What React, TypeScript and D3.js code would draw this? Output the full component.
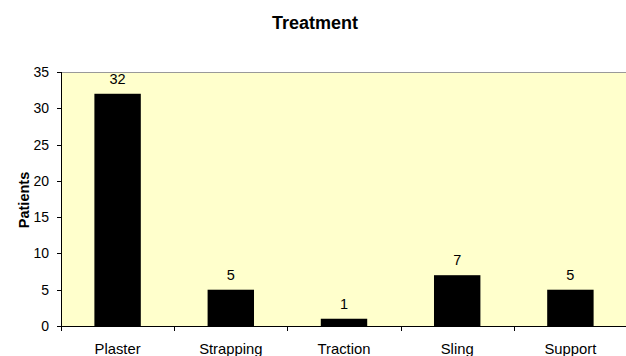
import React from "react";
import * as d3 from "d3";

const categories = ["Plaster", "Strapping", "Traction", "Sling", "Support"];
const patients = [32, 5, 1, 7, 5];
const yTicks = [0, 5, 10, 15, 20, 25, 30, 35];

const W = 626;
const H = 356;
const left = 61;
const right = 627;
const top = 72;
const bottom = 326;

export default function App() {
  const x = d3.scaleBand<string>().domain(categories).range([left, right]).paddingInner(0).paddingOuter(0);
  const y = d3.scaleLinear().domain([0, 35]).range([bottom, top]);
  const bw = x.bandwidth() * 0.41;
  const font = "Liberation Sans, Arial, sans-serif";
  return (
    <svg width={W} height={H} style={{ position: "absolute", left: 0, top: 0 }} fontFamily={font}>
      <rect x={0} y={0} width={W} height={H} fill="#fff" />
      <rect x={left} y={top} width={right - left} height={bottom - top} fill="#FFFFCC" />
      <line x1={left} x2={right} y1={top + 0.5} y2={top + 0.5} stroke="#999" strokeWidth={1} />
      {categories.map((c, i) => {
        const cx = (x(c) as number) + x.bandwidth() / 2;
        return (
          <g key={c}>
            <rect x={cx - bw / 2} y={y(patients[i])} width={bw} height={bottom - y(patients[i])} fill="#000" />
            <text x={cx} y={y(patients[i]) - 10} textAnchor="middle" fontSize={14.5} fill="#000">
              {patients[i]}
            </text>
            <text x={cx} y={354} textAnchor="middle" fontSize={14.8} fill="#000">
              {c}
            </text>
          </g>
        );
      })}
      {categories.map((c) => {
        const tx = Math.round(x(c) as number) + 0.5;
        return <line key={"t" + c} x1={tx} x2={tx} y1={bottom} y2={bottom + 5} stroke="#000" />;
      })}
      <line x1={left + 0.5} x2={left + 0.5} y1={top} y2={bottom} stroke="#000" />
      <line x1={left} x2={right} y1={bottom + 0.5} y2={bottom + 0.5} stroke="#000" />
      {yTicks.map((t) => (
        <g key={t}>
          <line x1={left - 4} x2={left} y1={Math.round(y(t)) + 0.5} y2={Math.round(y(t)) + 0.5} stroke="#000" />
          <text x={49} y={y(t) + 5} textAnchor="end" fontSize={14} fill="#000">
            {t}
          </text>
        </g>
      ))}
      <text x={315} y={29} textAnchor="middle" fontSize={18} fontWeight="bold" fill="#000">
        Treatment
      </text>
      <text transform={`translate(29,200) rotate(-90)`} textAnchor="middle" fontSize={14.5} fontWeight="bold" fill="#000">
        Patients
      </text>
    </svg>
  );
}
